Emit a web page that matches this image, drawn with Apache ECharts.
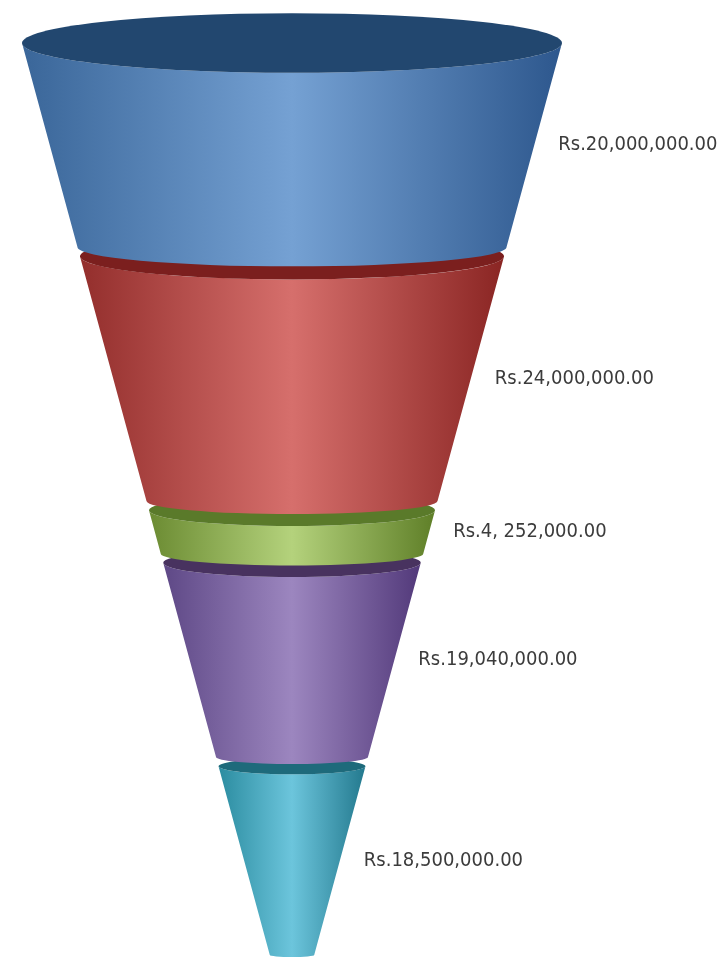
<!DOCTYPE html>
<html>
<head>
<meta charset="utf-8">
<script src="https://cdn.jsdelivr.net/npm/echarts@6/dist/echarts.min.js"></script>
<style>
  html, body { margin: 0; padding: 0; background: #fff; }
  #chart { width: 722px; height: 961px; }
</style>
</head>
<body>
<div id="chart"></div>
<script>
// stage values, top to bottom
const stageValues = [20000000, 24000000, 4252000, 19040000, 18500000];
const stageLabels = ['Rs.20,000,000.00', 'Rs.24,000,000.00', 'Rs.4, 252,000.00', 'Rs.19,040,000.00', 'Rs.18,500,000.00'];

// colours: left edge, middle highlight, right edge, top face
const edgeColors = ['#3a6699', '#932e2c', '#6b8b32', '#5e4886', '#2b8ca0'];
const lightColors = ['#75a1d3', '#d66f6c', '#b4d27c', '#9c86bf', '#6cc5dc'];
const darkColors = ['#2d578d', '#8a2523', '#5f7f28', '#52397a', '#23798e'];
const topColors = ['#22476f', '#7b1f1e', '#5a7a2a', '#48325f', '#1e6a7b'];

const gapValue = 900000;     // space between the rings
const apexValue = 97400000;  // where the cone would close

// build start / end of each ring along the funnel
const segments = [];
let acc = 0;
stageValues.forEach((v, i) => {
    segments.push([acc, acc + v, i]);
    acc += v + gapValue;
});
const totalValue = acc - gapValue;

const chart = echarts.init(document.getElementById('chart'));

const renderItem = (params, api) => {
    const s = api.value(0);
    const e = api.value(1);
    const i = api.value(2);
    const r0 = 1 - s / apexValue;
    const r1 = 1 - e / apexValue;
    const tl = api.coord([-r0, s]);
    const tr = api.coord([r0, s]);
    const bl = api.coord([-r1, e]);
    const br = api.coord([r1, e]);
    const rx0 = (tr[0] - tl[0]) / 2, ry0 = rx0 * 0.11;
    const rx1 = (br[0] - bl[0]) / 2, ry1 = rx1 * 0.09;
    const p = (pt) => pt[0].toFixed(2) + ',' + pt[1].toFixed(2);

    const body = 'M' + p(tl) + ' L' + p(bl)
        + ' A' + rx1 + ' ' + ry1 + ' 0 0 0 ' + p(br)
        + ' L' + p(tr)
        + ' A' + rx0 + ' ' + ry0 + ' 0 0 1 ' + p(tl) + ' Z';
    const top = 'M' + p(tl)
        + ' A' + rx0 + ' ' + ry0 + ' 0 0 0 ' + p(tr)
        + ' A' + rx0 + ' ' + ry0 + ' 0 0 0 ' + p(tl) + ' Z';

    const mid = (s + e) / 2;
    const lp = api.coord([1 - mid / apexValue, mid]);
    const z = (stageValues.length - i) * 3;

    return {
        type: 'group',
        children: [
            {
                type: 'path',
                z2: z,
                shape: {pathData: body},
                style: {
                    fill: new echarts.graphic.LinearGradient(0, 0, 1, 0, [
                        {offset: 0, color: edgeColors[i]},
                        {offset: 0.5, color: lightColors[i]},
                        {offset: 1, color: darkColors[i]}
                    ])
                }
            },
            {
                type: 'path',
                z2: z + 1,
                shape: {pathData: top},
                style: {fill: topColors[i]}
            },
            {
                type: 'text',
                z2: 50,
                x: lp[0] + 24,
                y: lp[1],
                style: {
                    text: stageLabels[i],
                    fill: '#3c3c3c',
                    font: '20px "DejaVu Sans Condensed", "DejaVu Sans", sans-serif',
                    align: 'left',
                    verticalAlign: 'middle'
                }
            }
        ]
    };
};

chart.setOption({
    animation: false,
    grid: {left: 22, width: 540, top: 43, height: 912},
    xAxis: {type: 'value', min: -1, max: 1, show: false},
    yAxis: {type: 'value', min: 0, max: totalValue, inverse: true, show: false},
    series: [{
        type: 'custom',
        renderItem: renderItem,
        data: segments,
        clip: false
    }]
});
</script>
</body>
</html>
